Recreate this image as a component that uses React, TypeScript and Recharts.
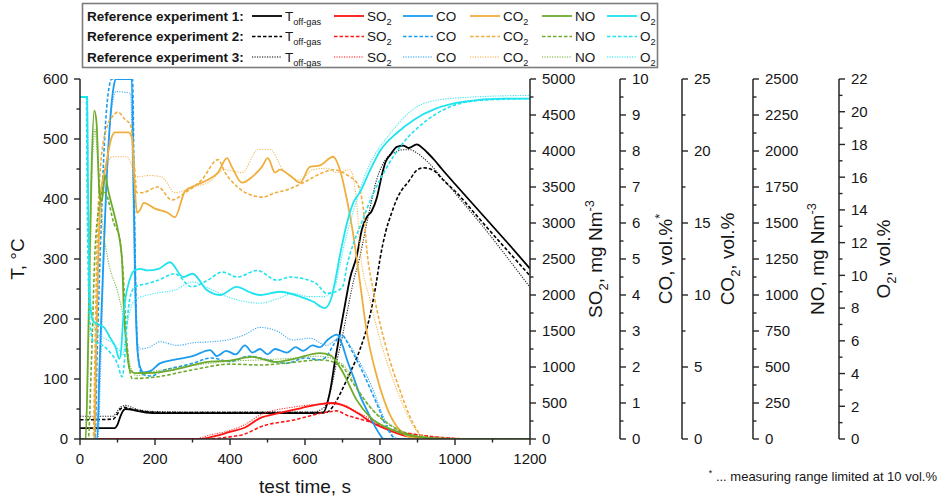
import React from 'react';
import { LineChart, Line, XAxis, YAxis } from 'recharts';

// ---------- series, [time s, value] ----------
const tOffgas1 = [[0,18],[92,18],[100,24],[108,38],[115,47],[122,50],[135,49],[160,46],[200,43],[300,43],[400,43],[500,43],[600,43],[648,44],[667,80],[680,130],[693,177],[707,225],[720,268],[738,305],[752,350],[765,370],[778,380],[792,403],[805,440],[815,462],[828,474],[845,487],[862,489],[876,485],[898,491],[915,484],[930,475],[945,465],[965,450],[1000,425],[1050,390],[1100,355],[1150,320],[1200,284]];
const tOffgas2 = [[0,32],[88,33],[98,40],[108,50],[118,53],[135,50],[170,46],[230,44],[400,44],[600,44],[655,44],[672,52],[685,65],[705,90],[720,110],[747,150],[773,205],[790,260],[800,300],[815,345],[830,375],[845,400],[858,415],[875,428],[898,448],[915,452],[942,448],[968,432],[1005,410],[1050,378],[1100,342],[1150,307],[1200,272]];
const tOffgas3 = [[0,38],[88,38],[98,45],[110,54],[122,56],[145,51],[190,46],[300,45],[500,45],[620,45],[650,52],[668,80],[685,130],[700,172],[715,220],[730,265],[745,300],[760,345],[775,390],[790,430],[805,455],[820,470],[840,478],[860,482],[880,482],[900,476],[930,460],[970,432],[1020,395],[1080,350],[1140,302],[1200,253]];

const so2Exp1 = [[0,0],[320,0],[360,40],[400,100],[440,160],[480,290],[530,360],[590,430],[640,485],[675,500],[700,470],[740,360],[780,225],[835,100],[880,30],[925,5],[1000,0],[1200,0]];
const so2Exp2 = [[0,0],[340,0],[400,30],[440,70],[480,167],[570,264],[660,375],[685,390],[710,335],[775,235],[835,125],[905,55],[980,14],[1050,0],[1200,0]];
const so2Exp3 = [[0,0],[300,0],[350,60],[400,120],[440,200],[480,333],[570,444],[660,486],[690,486],[745,360],[835,110],[900,60],[980,18],[1050,0],[1200,0]];

const coExp1 = [[0,0],[46,0],[52,2],[60,4.3],[70,7],[80,8.8],[90,9.8],[95,10],[138,10],[143,7],[148,4],[153,2.5],[160,2.0],[170,1.85],[190,1.9],[213,2.1],[250,2.2],[300,2.3],[347,2.47],[365,2.3],[390,2.45],[415,2.35],[440,2.6],[460,2.4],[480,2.5],[500,2.35],[520,2.5],[552,2.4],[575,2.55],[595,2.45],[620,2.6],[640,2.55],[660,2.75],[685,2.9],[700,2.6],[712,2.2],[730,1.7],[747,1.2],[765,0.8],[782,0.44],[800,0.12],[810,0],[1200,0]];
const coExp2 = [[0,0],[40,0],[46,2.5],[55,5.5],[65,8.2],[78,9.8],[85,10],[140,10],[145,6.5],[150,3.5],[156,2.2],[165,1.8],[190,1.75],[220,1.9],[260,2.0],[300,2.1],[350,2.25],[400,2.15],[450,2.3],[500,2.2],[550,2.1],[600,2.25],[640,2.2],[658,2.3],[675,2.6],[698,2.9],[712,2.7],[725,2.45],[745,2.05],[760,1.72],[778,1.3],[795,0.89],[810,0.5],[822,0.25],[840,0.02],[850,0],[1200,0]];
const coExp3 = [[0,0],[48,0],[55,2],[63,4.8],[75,8.0],[88,9.4],[95,9.65],[135,9.6],[141,7],[146,4.2],[152,2.8],[160,2.5],[185,2.55],[213,2.7],[260,2.6],[300,2.67],[350,2.7],[392,2.75],[440,2.9],[480,3.1],[525,3.0],[568,2.75],[613,2.8],[658,2.6],[680,2.75],[698,2.85],[720,2.6],[738,2.28],[760,1.85],[782,1.36],[800,0.85],[817,0.44],[835,0.08],[845,0],[1200,0]];

const co2Exp1 = [[0,0],[38,0],[42,5],[48,12],[55,17],[67,18.7],[85,21],[93,21.3],[129,21.3],[139,20.9],[145,18],[152,15.7],[160,15.9],[170,16.4],[200,16.0],[235,15.7],[253,15.4],[280,17.2],[307,17.6],[341,18.0],[368,18.5],[392,19.5],[405,18.9],[432,17.8],[459,18.2],[485,18.9],[501,19.5],[520,18.5],[533,18.7],[560,18.3],[587,17.8],[613,18.9],[640,19.0],[675,19.6],[693,18.7],[712,16.6],[728,14.3],[747,10.8],[765,7.4],[792,4.3],[818,2.2],[853,0.6],[888,0.07],[920,0],[1200,0]];
const co2Exp2 = [[0,0],[35,0],[40,6],[45,13],[55,19],[70,21.5],[90,22.5],[101,22.7],[120,22.2],[135,21.8],[145,19],[152,17.1],[165,17.1],[208,17.5],[245,16.6],[280,17.1],[325,18.0],[368,19.4],[387,18.5],[420,17.5],[450,17.0],[488,16.8],[520,17.1],[552,17.3],[595,17.8],[648,18.5],[675,18.7],[702,18.5],[720,18.2],[738,17.8],[755,16.1],[765,13.1],[782,10.3],[818,6.2],[853,3.4],[888,1.1],[915,0.14],[940,0],[1200,0]];
const co2Exp3 = [[0,0],[40,0],[45,8],[55,15],[70,18.5],[85,19.6],[125,19.6],[135,19.2],[150,18.2],[185,18.3],[218,18.2],[253,17.1],[298,17.5],[341,17.8],[387,18.7],[432,18.5],[475,20.1],[507,20.1],[541,18.7],[587,18.0],[621,18.7],[658,18.8],[685,18.5],[720,18.7],[738,16.4],[747,13.1],[773,9.7],[808,6.2],[845,3.4],[880,1.3],[907,0.3],[930,0],[1200,0]];

const noExp1 = [[0,0],[15,0],[22,700],[30,1800],[38,2280],[44,2200],[52,1700],[58,1650],[67,1833],[75,1729],[93,1542],[101,1451],[112,1243],[117,896],[125,618],[133,479],[147,458],[200,460],[250,480],[341,535],[400,545],[459,570],[520,535],[568,555],[640,597],[667,583],[702,458],[738,270],[773,153],[835,62],[907,14],[1000,0],[1200,0]];
const noExp2 = [[0,0],[22,0],[30,500],[40,1300],[50,1600],[62,1720],[70,1700],[90,1500],[105,1400],[115,1150],[122,800],[130,520],[140,420],[200,430],[300,480],[400,520],[480,514],[560,530],[640,549],[693,520],[728,389],[773,222],[835,83],[925,10],[1000,0],[1200,0]];
const noExp3 = [[0,0],[15,0],[25,900],[33,1900],[40,2150],[48,1900],[60,1500],[75,1240],[101,1014],[115,850],[125,650],[135,500],[150,440],[200,470],[300,510],[400,540],[480,549],[560,560],[640,575],[702,514],[747,319],[790,180],[853,62],[925,7],[1000,0],[1200,0]];

const o2Exp1 = [[0,20.9],[19,20.9],[21,16],[24,11],[28,8],[35,7.2],[50,7.0],[65,6.8],[80,6.2],[95,5.6],[105,4.9],[110,5.5],[115,7.3],[122,8.7],[132,9.7],[145,10.3],[160,10.4],[180,10.3],[210,10.4],[240,10.8],[275,9.9],[300,10.1],[338,9.1],[373,8.8],[418,9.3],[450,9.0],[480,8.8],[533,9.0],[587,8.7],[621,8.4],[653,8.0],[670,8.6],[680,9.6],[693,11.2],[712,13.2],[730,14.5],[747,15.1],[773,16.4],[800,17.6],[845,18.7],[890,19.5],[950,20.2],[1020,20.6],[1130,20.8],[1200,20.8]];
const o2Exp2 = [[0,20.9],[17,20.9],[19,15],[22,10],[27,7],[35,6.0],[55,5.8],[80,5.3],[100,4.6],[112,3.8],[118,4.6],[125,7.0],[135,8.8],[147,9.3],[180,9.5],[208,9.7],[253,10.1],[298,9.3],[340,9.7],[380,10.2],[420,9.9],[472,10.3],[525,9.7],[560,9.9],[595,9.8],[630,9.5],[658,8.9],[690,9.1],[702,9.4],[712,10.6],[730,12.0],[747,13.0],[782,15.0],[818,16.6],[862,18.1],[915,19.3],[987,20.3],[1070,20.7],[1200,20.8]];
const o2Exp3 = [[0,20.9],[20,20.9],[22,16],[26,10],[32,7.5],[45,6.5],[70,6.1],[90,5.8],[105,5.4],[114,5.1],[122,6.5],[133,7.8],[147,8.5],[200,8.9],[253,9.1],[300,9.6],[345,9.2],[392,8.7],[440,8.4],[480,8.3],[530,8.6],[570,8.9],[610,8.7],[650,8.7],[680,9.3],[692,10.5],[702,11.6],[720,13.2],[738,14.6],[755,15.8],[773,16.8],[795,17.7],[818,18.4],[850,19.3],[880,20.0],[950,20.7],[1050,20.9],[1200,21.0]];

// ---------- ticks ----------
const timeTicks = [0,100,200,300,400,500,600,700,800,900,1000,1100,1200];
const tempTicks = [0,50,100,150,200,250,300,350,400,450,500,550,600];
const so2Ticks = [0,250,500,750,1000,1250,1500,1750,2000,2250,2500,2750,3000,3250,3500,3750,4000,4250,4500,4750,5000];
const coTicks = [0,0.5,1,1.5,2,2.5,3,3.5,4,4.5,5,5.5,6,6.5,7,7.5,8,8.5,9,9.5,10];
const co2Ticks = [0,2.5,5,7.5,10,12.5,15,17.5,20,22.5,25];
const noTicks = [0,125,250,375,500,625,750,875,1000,1125,1250,1375,1500,1625,1750,1875,2000,2125,2250,2375,2500];
const o2Ticks = [0,1,2,3,4,5,6,7,8,9,10,11,12,13,14,15,16,17,18,19,20,21,22];

const experiments = ['Reference experiment 1:', 'Reference experiment 2:', 'Reference experiment 3:'];

const FONT = '"Liberation Sans", Arial, Helvetica, sans-serif';
const INK = '#161616';
const AXIS = '#262626';
const TICK = 6;
const GAP = 6;

const COLORS: Record<string, string> = {
  T: '#000000', SO2: '#ff1414', CO: '#1c9cf0', CO2: '#efae3e', NO: '#6eab2c', O2: '#1fe4ef',
};
const DASH = ['', '3.5 2', '1.2 1.3'];
const WIDTH = [1.8, 1.6, 1.1];

// recharts stacks same-side axes in id order, so the ids carry a position prefix
const AXIS_ID: Record<string, string> = { T: 'a0T', SO2: 'a1SO2', CO: 'a2CO', CO2: 'a3CO2', NO: 'a4NO', O2: 'a5O2' };

type Part = [string, 'n' | 'sub' | 'sup'];

const gasParts: Record<string, Part[]> = {
  T: [['T', 'n'], ['off-gas', 'sub']],
  SO2: [['SO', 'n'], ['2', 'sub']],
  CO: [['CO', 'n']],
  CO2: [['CO', 'n'], ['2', 'sub']],
  NO: [['NO', 'n']],
  O2: [['O', 'n'], ['2', 'sub']],
};

const series = [
  { gas: 'T', runs: [tOffgas1, tOffgas2, tOffgas3] },
  { gas: 'SO2', runs: [so2Exp1, so2Exp2, so2Exp3] },
  { gas: 'CO', runs: [coExp1, coExp2, coExp3] },
  { gas: 'CO2', runs: [co2Exp1, co2Exp2, co2Exp3] },
  { gas: 'NO', runs: [noExp1, noExp2, noExp3] },
  { gas: 'O2', runs: [o2Exp1, o2Exp2, o2Exp3] },
];

const toPts = (arr: number[][]) => arr.map(([t, v]) => ({ t, v }));

// text with sub/superscripts as tspans
function rich(parts: Part[], size: number) {
  let cur = 0;
  return parts.map(([s, kind], i) => {
    const target = kind === 'sub' ? size * 0.3 : kind === 'sup' ? -size * 0.42 : 0;
    const dy = target - cur;
    cur = target;
    return (
      <tspan key={i} dy={dy} fontSize={kind === 'n' ? size : size * 0.68}>{s}</tspan>
    );
  });
}

const makeTick = (side: 'left' | 'right' | 'bottom', major: number) => (props: any) => {
  const { x, y, payload } = props;
  const v = Number(payload.value);
  const isMajor = Math.abs(v / major - Math.round(v / major)) < 1e-6;
  const len = isMajor ? TICK : 3.5;
  const txt = { fontSize: 15, fill: INK, fontFamily: FONT };
  if (side === 'bottom') {
    const ay = y - TICK - GAP;
    return (
      <g>
        <line x1={x} x2={x} y1={ay} y2={ay + len} stroke={AXIS} strokeWidth={1.4} />
        {isMajor && <text x={x} y={y + 2} dy="0.72em" textAnchor="middle" {...txt}>{v}</text>}
      </g>
    );
  }
  if (side === 'left') {
    const ax = x + TICK + GAP;
    return (
      <g>
        <line x1={ax - len} x2={ax} y1={y} y2={y} stroke={AXIS} strokeWidth={1.4} />
        {isMajor && <text x={x} y={y} dy="0.36em" textAnchor="end" {...txt}>{v}</text>}
      </g>
    );
  }
  const ax = x - TICK - GAP;
  return (
    <g>
      <line x1={ax} x2={ax + len} y1={y} y2={y} stroke={AXIS} strokeWidth={1.4} />
      {isMajor && <text x={x} y={y} dy="0.36em" textAnchor="start" {...txt}>{v}</text>}
    </g>
  );
};

const titleParts: Record<string, Part[]> = {
  T: [['T, °C', 'n']],
  SO2: [['SO', 'n'], ['2', 'sub'], [', mg Nm', 'n'], ['-3', 'sup']],
  CO: [['CO, vol.%', 'n'], ['*', 'sup']],
  CO2: [['CO', 'n'], ['2', 'sub'], [', vol.%', 'n']],
  NO: [['NO, mg Nm', 'n'], ['-3', 'sup']],
  O2: [['O', 'n'], ['2', 'sub'], [', vol.%', 'n']],
};
const titleDx: Record<string, number> = { T: 17, SO2: 65, CO: 45, CO2: 45, NO: 64, O2: 44 };

const AxisTitle = (props: any) => {
  const { viewBox, kind } = props;
  if (!viewBox) return null;
  if (kind === 'x') {
    return (
      <text x={viewBox.x + viewBox.width / 2} y={493} textAnchor="middle" fontSize={19} fill={INK} fontFamily={FONT}>
        test time, s
      </text>
    );
  }
  const cx = viewBox.x + titleDx[kind];
  const cy = 259;
  return (
    <text x={cx} y={cy + 7} transform={`rotate(-90 ${cx} ${cy})`} textAnchor="middle" fill={INK} fontFamily={FONT} fontSize={19}>
      {rich(titleParts[kind], 19)}
    </text>
  );
};

const legendSlots = [
  { gas: 'T', x: 252 },
  { gas: 'SO2', x: 334 },
  { gas: 'CO', x: 403 },
  { gas: 'CO2', x: 470 },
  { gas: 'NO', x: 542 },
  { gas: 'O2', x: 607 },
];

function LegendBox() {
  const rowY = [16, 36.5, 57];
  return (
    <g fontFamily={FONT} fill={INK}>
      <rect x={82.5} y={3.5} width={575} height={64} fill="#fff" stroke="#7c7c7c" strokeWidth={1.6} />
      {experiments.map((label, r) => (
        <g key={label}>
          <text x={87} y={rowY[r] + 4.8} fontSize={13.5} fontWeight="bold">{label}</text>
          {legendSlots.map((s) => (
            <g key={s.gas}>
              <line x1={s.x} x2={s.x + 30} y1={rowY[r]} y2={rowY[r]} stroke={COLORS[s.gas]}
                strokeWidth={WIDTH[r]} strokeDasharray={DASH[r]} />
              <text x={s.x + 33} y={rowY[r] + 4.8}>{rich(gasParts[s.gas], 13.5)}</text>
            </g>
          ))}
        </g>
      ))}
    </g>
  );
}

export default function App() {
  const axisLine = { stroke: AXIS, strokeWidth: 1.5 };
  const rightAxes = [
    { gas: 'SO2', width: 90, domain: [0, 5000], ticks: so2Ticks, major: 500 },
    { gas: 'CO', width: 62, domain: [0, 10], ticks: coTicks, major: 1 },
    { gas: 'CO2', width: 71, domain: [0, 25], ticks: co2Ticks, major: 5 },
    { gas: 'NO', width: 86, domain: [0, 2500], ticks: noTicks, major: 250 },
    { gas: 'O2', width: 106, domain: [0, 22], ticks: o2Ticks, major: 2 },
  ];
  return (
    <div style={{ position: 'absolute', left: 0, top: 0, width: 945, height: 499, background: '#fff', fontFamily: FONT }}>
      <LineChart width={945} height={499} margin={{ top: 79, right: 0, bottom: 0, left: 0 }}>
        <XAxis dataKey="t" type="number" domain={[0, 1200]} ticks={timeTicks} interval={0}
          height={60} tickSize={TICK} tickMargin={GAP} axisLine={axisLine} tickLine={false}
          tick={makeTick('bottom', 200)} label={<AxisTitle kind="x" />} allowDataOverflow />
        <YAxis yAxisId={AXIS_ID.T} orientation="left" width={80} domain={[0, 600]} ticks={tempTicks} interval={0}
          tickSize={TICK} tickMargin={GAP} axisLine={axisLine} tickLine={false}
          tick={makeTick('left', 100)} label={<AxisTitle kind="T" />} allowDataOverflow />
        {rightAxes.map((a) => (
          <YAxis key={a.gas} yAxisId={AXIS_ID[a.gas]} orientation="right" width={a.width} domain={a.domain}
            ticks={a.ticks} interval={0} tickSize={TICK} tickMargin={GAP} axisLine={axisLine}
            tickLine={false} tick={makeTick('right', a.major)} label={<AxisTitle kind={a.gas} />}
            allowDataOverflow />
        ))}
        {series.map((s) =>
          s.runs.map((run, i) => (
            <Line key={`${s.gas}-${i}`} yAxisId={AXIS_ID[s.gas]} data={toPts(run)} dataKey="v" type="monotone"
              stroke={COLORS[s.gas]} strokeWidth={WIDTH[i]} strokeDasharray={DASH[i]}
              strokeOpacity={i === 2 ? 0.85 : 1} dot={false} activeDot={false} isAnimationActive={false} />
          ))
        )}
      </LineChart>
      <svg width={945} height={499} style={{ position: 'absolute', left: 0, top: 0, pointerEvents: 'none' }}>
        <LegendBox />
        <text x={937} y={481} textAnchor="end" fontFamily={FONT} fontSize={13} fill={INK}>
          {rich([['*', 'sup'], [' ... measuring range limited at 10 vol.%', 'n']], 13)}
        </text>
      </svg>
    </div>
  );
}
